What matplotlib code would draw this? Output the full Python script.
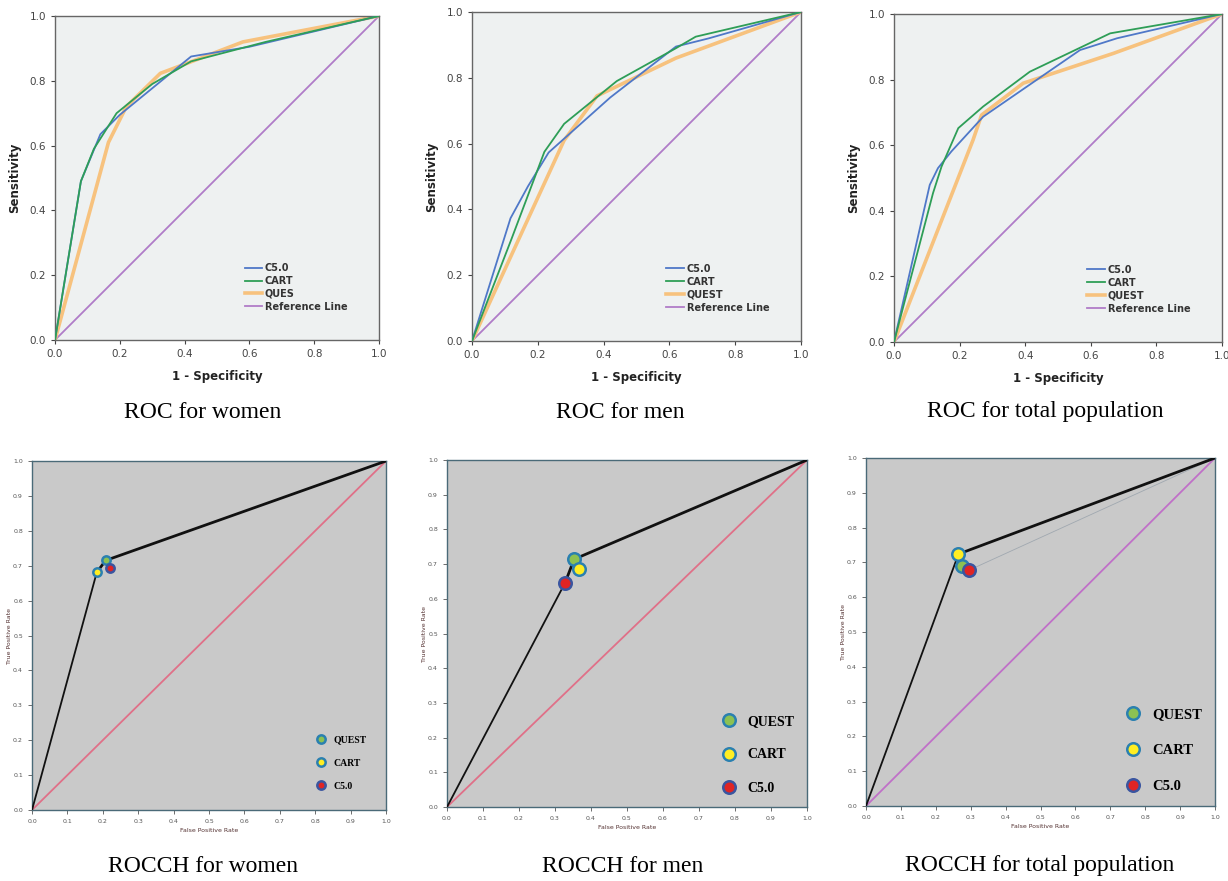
import matplotlib.pyplot as plt
import numpy as np
from matplotlib.lines import Line2D

# ROC curves (1 - specificity, sensitivity)
women_c50_x = [0, 0.08, 0.14, 0.20, 0.42, 0.60, 1.0]
women_c50_y = [0, 0.49, 0.635, 0.695, 0.875, 0.905, 1.0]
women_cart_x = [0, 0.08, 0.12, 0.19, 0.30, 0.42, 0.65, 1.0]
women_cart_y = [0, 0.49, 0.59, 0.70, 0.79, 0.86, 0.92, 1.0]
women_ques_x = [0, 0.165, 0.22, 0.325, 0.41, 0.58, 1.0]
women_ques_y = [0, 0.61, 0.72, 0.823, 0.855, 0.92, 1.0]

men_c50_x = [0, 0.117, 0.17, 0.233, 0.42, 0.62, 0.72, 1.0]
men_c50_y = [0, 0.373, 0.47, 0.573, 0.74, 0.895, 0.92, 1.0]
men_cart_x = [0, 0.12, 0.22, 0.28, 0.44, 0.62, 0.68, 1.0]
men_cart_y = [0, 0.31, 0.575, 0.66, 0.79, 0.89, 0.925, 1.0]
men_quest_x = [0, 0.28, 0.38, 0.62, 1.0]
men_quest_y = [0, 0.61, 0.745, 0.86, 1.0]

total_c50_x = [0, 0.109, 0.134, 0.175, 0.272, 0.567, 0.68, 1.0]
total_c50_y = [0, 0.479, 0.53, 0.581, 0.687, 0.89, 0.926, 1.0]
total_cart_x = [0, 0.119, 0.145, 0.196, 0.272, 0.414, 0.659, 1.0]
total_cart_y = [0, 0.454, 0.535, 0.652, 0.718, 0.824, 0.941, 1.0]
total_quest_x = [0, 0.241, 0.267, 0.394, 0.669, 1.0]
total_quest_y = [0, 0.616, 0.692, 0.789, 0.88, 1.0]

# ROCCH points (false positive rate, true positive rate): QUEST, CART, C5.0
models = ["QUEST", "CART", "C5.0"]
women_fpr = [0.208, 0.183, 0.219]
women_tpr = [0.715, 0.681, 0.694]
men_fpr = [0.353, 0.368, 0.328]
men_tpr = [0.714, 0.686, 0.646]
total_fpr = [0.275, 0.265, 0.296]
total_tpr = [0.691, 0.724, 0.678]

# hull vertices (index into the model lists)
women_hull = [1, 0]
men_hull = [2, 0]
total_hull = [1]

W, H = 1228, 881
fig = plt.figure(figsize=(W / 100, H / 100), dpi=100)
fig.patch.set_facecolor("white")

def box(l, t, r, b):
    return [l / W, 1 - b / H, (r - l) / W, (b - t) / H]

blue = "#4f78c8"
green = "#2e9e57"
orange = "#f7c27e"
purple = "#b07cc8"

def roc_panel(rect, curves, names, title, tx):
    ax = fig.add_axes(rect)
    ax.set_facecolor("#eef1f1")
    ax.plot(curves[0][0], curves[0][1], color=blue, lw=1.3, label=names[0], zorder=3)
    ax.plot(curves[1][0], curves[1][1], color=green, lw=1.3, label=names[1], zorder=3)
    ax.plot(curves[2][0], curves[2][1], color=orange, lw=2.6, label=names[2], zorder=2)
    ax.plot([0, 1], [0, 1], color=purple, lw=1.3, label="Reference Line", zorder=1)
    ax.set_xlim(0, 1)
    ax.set_ylim(0, 1)
    ticks = np.arange(0, 1.01, 0.2)
    ax.set_xticks(ticks)
    ax.set_yticks(ticks)
    ax.set_xticklabels(["%.1f" % t for t in ticks])
    ax.set_yticklabels(["%.1f" % t for t in ticks])
    ax.tick_params(labelsize=7.5, colors="#444444", length=3)
    for s in ax.spines.values():
        s.set_color("#666666")
        s.set_linewidth(1.0)
    ax.set_xlabel("1 - Specificity", fontsize=8.5, fontweight="bold", color="#222222", labelpad=8)
    ax.set_ylabel("Sensitivity", fontsize=8.5, fontweight="bold", color="#222222", labelpad=6)
    leg = ax.legend(loc="lower right", bbox_to_anchor=(0.93, 0.06), frameon=False,
                    fontsize=7, handlelength=1.8, labelspacing=0.3, handletextpad=0.3)
    for t in leg.get_texts():
        t.set_fontweight("bold")
        t.set_color("#333333")
    fig.text(tx / W, 1 - 412 / H, title, ha="center", va="center",
             fontsize=17, family="Liberation Serif")
    return ax

def rocch_panel(rect, fpr, tpr, hull, diag, msize, lsize, title, tx, leg_anchor, spacing, faint):
    ax = fig.add_axes(rect)
    ax.set_facecolor("#c9c9c9")
    ax.plot([0, 1], [0, 1], color=diag, lw=1.3, zorder=1)
    for i in faint:
        ax.plot([fpr[i], 1], [tpr[i], 1], color="#a0a8b0", lw=0.6, zorder=2)
    hx = [0] + [fpr[i] for i in hull] + [1]
    hy = [0] + [tpr[i] for i in hull] + [1]
    ax.plot(hx[:2], hy[:2], color="#111111", lw=1.3, zorder=3)
    ax.plot(hx[1:], hy[1:], color="#111111", lw=2.0, zorder=3)
    fills = ["#8cc152", "#ffee22", "#e02424"]
    edges = ["#2a80b0", "#2a80b0", "#3a55a0"]
    handles = []
    for i in range(3):
        ax.plot(fpr[i], tpr[i], "o", ms=msize, mfc=fills[i], mec=edges[i], mew=1.8, zorder=4)
        handles.append(Line2D([], [], ls="", marker="o", ms=msize, mfc=fills[i],
                              mec=edges[i], mew=1.8, label=models[i]))
    ax.set_xlim(0, 1)
    ax.set_ylim(0, 1)
    ticks = np.arange(0, 1.01, 0.1)
    ax.set_xticks(ticks)
    ax.set_yticks(ticks)
    ax.set_xticklabels(["%.1f" % t for t in ticks])
    ax.set_yticklabels(["%.1f" % t for t in ticks])
    ax.tick_params(labelsize=4.5, colors="#555555", length=3, width=0.6)
    for s in ax.spines.values():
        s.set_color("#4a6a78")
        s.set_linewidth(1.0)
    ax.set_xlabel("False Positive Rate", fontsize=4.5, color="#553333", labelpad=3)
    ax.set_ylabel("True Positive Rate", fontsize=4.5, color="#553333", labelpad=1)
    leg = ax.legend(handles=handles, loc="lower right", bbox_to_anchor=leg_anchor,
                    frameon=False, handletextpad=0.3, labelspacing=spacing,
                    prop={"family": "Liberation Serif", "weight": "bold", "size": lsize})
    fig.text(tx / W, 1 - 866 / H, title, ha="center", va="center",
             fontsize=17, family="Liberation Serif")
    return ax

roc_panel(box(55, 16, 379, 340),
          [(women_c50_x, women_c50_y), (women_cart_x, women_cart_y), (women_ques_x, women_ques_y)],
          ["C5.0", "CART", "QUES"], "ROC for women", 203)
roc_panel(box(472, 12, 801, 341),
          [(men_c50_x, men_c50_y), (men_cart_x, men_cart_y), (men_quest_x, men_quest_y)],
          ["C5.0", "CART", "QUEST"], "ROC for men", 620)
roc_panel(box(894, 14, 1222, 342),
          [(total_c50_x, total_c50_y), (total_cart_x, total_cart_y), (total_quest_x, total_quest_y)],
          ["C5.0", "CART", "QUEST"], "ROC for total population", 1045)

rocch_panel(box(32, 461, 386, 810), women_fpr, women_tpr, women_hull, "#e07088",
            6, 7, "ROCCH for women", 203, (0.97, 0.03), 1.45, [])
rocch_panel(box(447, 460, 807, 807), men_fpr, men_tpr, men_hull, "#e07088",
            9, 10, "ROCCH for men", 623, (1.0, 0.0), 1.45, [])
rocch_panel(box(866, 458, 1215, 806), total_fpr, total_tpr, total_hull, "#c070c8",
            9, 10.5, "ROCCH for total population", 1040, (1.0, 0.0), 1.55, [2])

plt.savefig("out.png", dpi=100)
